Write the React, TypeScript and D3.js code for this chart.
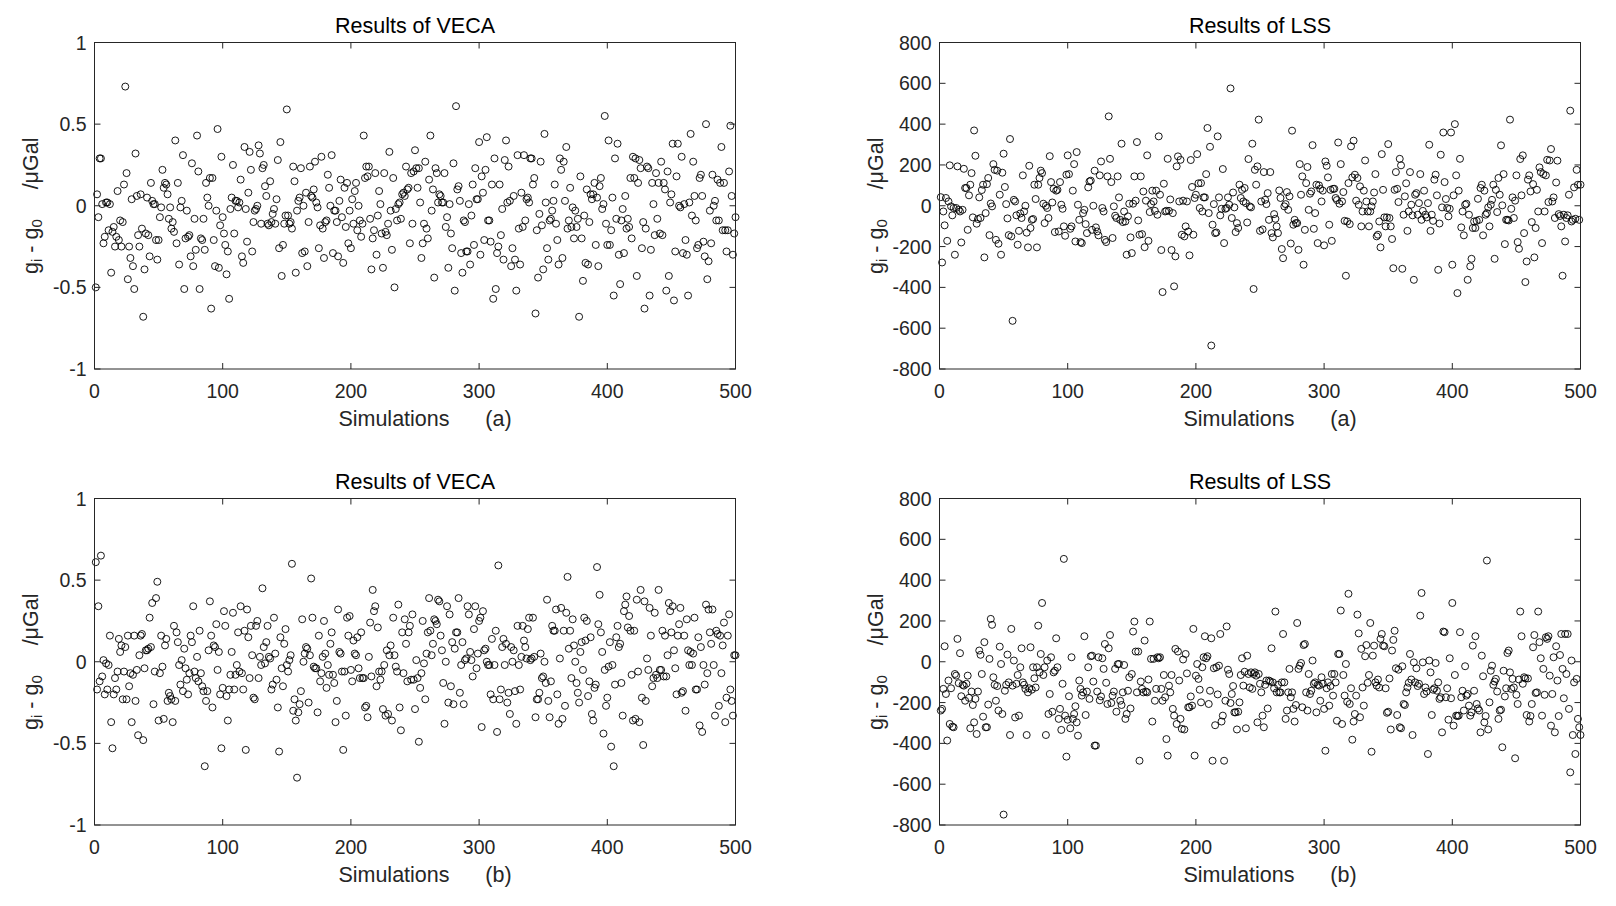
import * as d3 from "d3";

// simulation results (one value per simulation, 1..500)
const vecaA = [
  -0.50, 0.07, -0.07, 0.29, 0.29, 0.01, -0.23, -0.19, 0.02, 0.02,
  -0.15, 0.01, -0.41, -0.16, -0.13, -0.25, -0.19, 0.09, -0.21, -0.09,
  -0.25, -0.10, 0.13, 0.73, 0.20, -0.45, -0.25, -0.32, 0.04, -0.37,
  -0.51, 0.32, 0.06, -0.18, -0.25, 0.07, -0.14, -0.68, -0.39, -0.17,
  0.05, -0.18, -0.31, 0.14, 0.03, 0.01, 0.01, -0.21, -0.33, -0.21,
  -0.07, -0.01, 0.22, 0.11, 0.14, 0.13, 0.07, -0.08, -0.01, -0.14,
  -0.10, -0.16, 0.40, -0.23, 0.14, -0.36, -0.01, 0.03, 0.31, -0.51,
  -0.20, -0.03, -0.19, -0.18, -0.31, 0.26, -0.37, -0.08, -0.27, 0.43,
  0.21, -0.51, -0.20, -0.21, -0.08, -0.27, 0.14, 0.05, 0.00, 0.17,
  -0.63, 0.17, -0.21, -0.37, -0.03, 0.47, -0.38, -0.12, 0.30, -0.07,
  -0.17, -0.24, -0.42, -0.28, -0.57, -0.02, 0.05, 0.25, -0.17, 0.03,
  0.03, -0.01, 0.02, 0.16, -0.31, -0.35, 0.36, -0.02, -0.22, 0.08,
  0.33, 0.22, -0.28, -0.10, -0.03, -0.02, 0.00, 0.37, 0.32, -0.11,
  0.23, 0.25, 0.12, 0.06, -0.11, -0.12, 0.15, -0.10, -0.05, -0.02,
  -0.11, 0.04, 0.28, -0.26, 0.39, -0.43, -0.24, -0.11, -0.06, 0.59,
  -0.06, -0.11, -0.10, -0.14, 0.24, 0.15, -0.41, -0.03, 0.03, 0.05,
  0.23, -0.29, 0.00, -0.28, 0.08, -0.37, -0.10, 0.24, 0.06, 0.05,
  0.10, 0.27, 0.02, -0.01, -0.26, -0.12, 0.30, -0.14, -0.32, -0.10,
  -0.09, 0.19, 0.11, 0.00, 0.31, -0.29, -0.03, -0.03, -0.10, -0.31,
  0.03, 0.16, -0.07, -0.35, 0.11, -0.13, 0.14, -0.23, -0.03, -0.26,
  0.04, -0.11, 0.09, 0.14, -0.15, 0.00, -0.09, -0.19, -0.11, 0.43,
  0.17, 0.24, 0.18, 0.24, -0.08, -0.39, -0.20, -0.15, 0.20, -0.30,
  -0.06, 0.09, 0.01, -0.17, -0.38, 0.20, -0.16, -0.18, -0.11, 0.33,
  -0.03, -0.27, 0.17, -0.50, -0.02, -0.09, 0.01, 0.02, -0.08, 0.07,
  0.08, 0.06, 0.24, 0.10, 0.11, -0.23, 0.20, -0.11, 0.21, 0.34,
  0.23, 0.11, 0.23, 0.02, -0.32, -0.23, -0.11, 0.27, -0.14, -0.20,
  0.16, 0.43, -0.03, 0.10, -0.44, 0.23, 0.20, 0.02, 0.07, 0.06,
  0.02, 0.02, 0.20, -0.13, -0.07, -0.38, 0.01, -0.17, -0.26, 0.26,
  -0.52, 0.61, 0.10, 0.12, 0.03, -0.29, -0.41, -0.09, -0.10, -0.28,
  -0.28, 0.01, -0.36, -0.06, 0.13, -0.24, 0.23, 0.04, 0.04, 0.39,
  -0.30, 0.18, 0.08, -0.21, 0.22, 0.42, -0.09, -0.09, -0.22, 0.13,
  -0.57, 0.29, -0.51, -0.29, -0.25, 0.13, -0.18, -0.02, -0.33, 0.28,
  0.40, 0.02, 0.24, 0.03, -0.37, -0.26, 0.06, -0.33, -0.52, 0.31,
  -0.14, -0.36, 0.08, -0.13, 0.31, -0.09, 0.04, 0.05, 0.02, 0.29,
  0.29, 0.13, 0.17, -0.66, -0.15, -0.44, -0.05, 0.27, -0.12, -0.39,
  0.44, 0.02, -0.26, -0.33, -0.09, -0.08, -0.03, 0.03, 0.13, -0.11,
  -0.21, -0.36, 0.29, 0.22, -0.32, 0.27, 0.03, 0.36, -0.14, -0.09,
  0.11, -0.13, -0.01, -0.20, -0.03, -0.13, -0.08, -0.68, 0.18, -0.20,
  -0.46, -0.06, -0.35, 0.10, -0.36, -0.10, 0.07, 0.04, 0.07, 0.14,
  -0.24, 0.05, -0.37, 0.12, 0.17, -0.02, 0.01, 0.55, -0.11, -0.24,
  0.40, -0.24, -0.15, 0.05, -0.55, 0.29, -0.08, 0.38, -0.30, -0.48,
  -0.09, -0.02, -0.29, 0.06, -0.14, -0.08, -0.13, 0.17, -0.20, 0.30,
  0.17, 0.29, -0.43, 0.14, 0.28, 0.23, -0.26, -0.10, -0.63, -0.14,
  0.24, 0.23, -0.55, -0.27, 0.14, 0.01, -0.18, 0.20, -0.08, 0.14,
  -0.17, 0.27, -0.18, 0.14, 0.10, -0.52, 0.21, -0.43, 0.02, 0.07,
  0.38, -0.58, -0.28, 0.18, 0.38, 0.00, -0.01, 0.30, -0.29, 0.01,
  -0.21, -0.30, -0.55, 0.02, 0.44, -0.06, 0.27, 0.06, -0.09, -0.26,
  -0.24, 0.17, 0.19, 0.06, -0.22, -0.31, 0.50, -0.45, -0.34, -0.03,
  -0.23, 0.19, 0.00, 0.03, -0.09, 0.16, -0.09, 0.14, 0.36, -0.15,
  0.14, -0.15, -0.28, -0.15, 0.21, 0.49, 0.06, -0.30, -0.17, -0.07,
];

const lssA = [
  42, -278, -28, -96, 38, -172, 21, 198, -3, -47,
  -11, -240, -11, 193, -20, -28, -180, -20, 181, 87,
  87, -118, 51, 103, 160, -57, 369, 245, -88, -65,
  41, -60, 77, 103, -253, -36, 106, 136, -144, 11,
  -3, 204, 176, -167, 172, -186, 54, -240, 162, 255,
  92, 8, -62, -144, 327, -150, -564, 29, 21, -47,
  -191, -123, -38, -60, 149, -28, 0, -132, -204, 196,
  -109, -69, -65, 103, 33, -204, 103, 136, 172, 160,
  10, -85, 0, -11, -60, 243, 116, 16, 83, -129,
  74, 78, -126, 116, 5, -15, -101, -147, 152, 247,
  155, -113, -101, 74, 204, -175, 263, 5, -69, -178,
  -183, -36, -20, -90, -134, 90, 119, 123, -118, 0,
  172, -106, -126, -145, 149, 217, -11, -28, -167, -178,
  144, 438, 230, 116, -158, -3, -49, -60, 144, 41,
  -69, 304, -80, -28, -77, -240, -52, 10, -155, -232,
  10, 144, 25, 312, -72, -142, 144, -139, 70, -203,
  25, 247, -172, -31, 8, 74, 21, -25, 74, -44,
  340, 54, -217, -423, 108, -28, -25, 230, -25, 31,
  -217, -36, -395, -248, 193, 242, 21, 225, -142, 25,
  -150, -101, 21, -126, -243, 224, 92, -142, 38, 54,
  253, 110, -11, 111, -28, 41, 41, 155, 381, -36,
  289, -685, -93, 8, -134, -131, 340, 41, -47, -15,
  180, -183, -15, -11, 41, 5, 575, -60, 65, -8,
  -129, -85, -109, 103, 38, 78, 21, 87, 13, -82,
  229, -3, -8, 304, -408, 176, 103, 193, 422, -123,
  21, -116, 165, 29, 8, 62, -69, 165, -134, -155,
  -41, -64, -101, -134, 75, 38, -212, -257, -3, 8,
  67, -20, 46, -185, 368, -93, -69, -85, -85, -216,
  204, 54, 144, -289, -118, 111, 190, -20, 59, 70,
  297, -113, -36, 103, -183, 100, 83, 21, 74, -194,
  217, 196, 139, -93, 78, -172, 83, 83, 38, 28,
  310, 10, 204, 21, 67, -74, -343, -77, 111, -90,
  291, 139, 319, 152, 25, 136, 5, 95, -101, -28,
  74, 222, 21, -28, -101, -28, -3, 21, 65, 155,
  -150, -142, -77, -204, 253, 78, -57, -101, -57, 302,
  -60, -101, -163, -306, 78, 165, 83, 18, 230, 198,
  -309, -44, 46, 110, -123, -28, 165, 5, -47, -363,
  54, 62, -44, 13, 155, -69, -25, 74, -44, -57,
  13, 299, -123, -44, -74, 128, 152, 51, -314, -87,
  250, -8, 359, 116, 33, -11, -52, -15, 359, -289,
  51, 400, 149, -428, 74, 230, -106, -28, -145, 5,
  10, -363, -44, -297, -260, -109, -77, -109, -74, 34,
  -69, 87, 103, -145, 74, -44, -36, -8, -101, 5,
  29, 103, -260, 78, -31, 136, 54, 296, 2, 155,
  -188, -69, -69, -72, 422, -15, 41, -60, 25, 149,
  -178, -211, 229, 51, 247, -134, -374, -273, 128, 149,
  70, -80, 106, -253, -109, 78, -28, 188, 165, -183,
  155, -28, 149, 225, 18, 222, 278, 21, 41, -60,
  114, 221, -41, -50, -101, -343, -44, -175, -60, -47,
  54, 466, -77, -69, 90, -64, 176, 103, -69, 103,
];

const vecaB = [
  0.61, -0.17, 0.34, -0.12, 0.65, -0.09, 0.01, -0.20, -0.01, -0.17,
  -0.02, 0.16, -0.37, -0.53, -0.20, -0.10, -0.17, -0.06, 0.14, 0.06,
  0.10, -0.23, -0.06, 0.09, -0.23, 0.16, -0.15, -0.07, -0.37, -0.08,
  0.16, -0.24, -0.05, -0.45, 0.04, 0.16, 0.17, -0.48, -0.04, 0.07,
  0.07, 0.08, 0.27, 0.09, 0.36, -0.26, -0.06, 0.39, 0.49, -0.36,
  -0.07, 0.16, -0.03, -0.35, 0.10, 0.14, -0.24, -0.19, -0.21, -0.23,
  -0.37, 0.22, -0.24, 0.18, 0.12, -0.02, -0.14, 0.01, -0.18, 0.08,
  -0.04, -0.11, -0.20, -0.07, 0.16, 0.12, 0.34, -0.06, -0.10, 0.03,
  -0.12, 0.19, -0.07, -0.15, -0.18, -0.64, -0.24, -0.18, 0.07, 0.37,
  0.16, -0.28, 0.10, 0.09, 0.23, -0.05, 0.06, -0.20, -0.53, -0.16,
  0.31, 0.22, -0.21, -0.36, -0.17, -0.08, 0.06, 0.30, -0.17, -0.08,
  -0.02, 0.18, -0.06, 0.34, -0.07, -0.17, 0.19, -0.54, 0.32, 0.15,
  -0.10, 0.22, 0.04, -0.22, -0.23, 0.22, 0.25, -0.10, 0.03, -0.02,
  0.45, 0.09, -0.01, 0.12, 0.22, 0.03, 0.02, -0.17, -0.14, 0.27,
  0.05, -0.11, -0.28, -0.55, 0.15, -0.04, -0.15, 0.11, 0.20, -0.02,
  -0.06, 0.01, 0.04, 0.60, -0.30, -0.23, -0.36, -0.71, -0.31, -0.26,
  -0.18, 0.26, 0.00, 0.05, 0.09, 0.08, -0.25, 0.04, 0.51, 0.27,
  -0.03, -0.04, -0.04, -0.31, 0.16, -0.12, -0.07, 0.03, 0.25, 0.05,
  -0.16, -0.02, -0.08, 0.11, 0.18, -0.08, -0.13, -0.37, -0.24, 0.32,
  0.06, 0.05, -0.06, -0.54, -0.06, -0.33, 0.27, 0.16, 0.28, -0.05,
  -0.12, 0.13, 0.05, 0.04, 0.15, -0.04, -0.10, 0.18, -0.10, -0.10,
  -0.28, -0.27, -0.34, 0.03, 0.24, -0.09, 0.44, 0.31, 0.34, -0.15,
  0.21, -0.06, -0.11, -0.06, -0.29, -0.02, -0.33, 0.07, -0.32, 0.04,
  0.10, -0.36, 0.27, 0.04, -0.03, -0.06, 0.35, -0.28, -0.42, 0.18,
  -0.07, 0.26, 0.11, -0.12, 0.18, 0.22, -0.11, 0.29, -0.11, -0.29,
  0.01, -0.10, -0.49, -0.16, -0.07, 0.25, -0.01, -0.23, 0.05, 0.18,
  0.39, 0.19, 0.04, 0.11, 0.26, 0.25, 0.23, 0.38, 0.37, 0.16,
  0.07, -0.13, -0.38, 0.00, 0.34, -0.25, 0.29, -0.15, 0.12, -0.26,
  0.08, 0.18, 0.18, 0.39, -0.19, -0.02, 0.12, -0.26, 0.01, 0.02,
  0.34, 0.29, 0.06, 0.01, -0.09, 0.20, 0.34, -0.04, 0.05, 0.25,
  0.27, -0.40, 0.31, 0.07, 0.08, 0.00, -0.02, -0.02, -0.20, 0.14,
  -0.23, -0.02, 0.19, -0.43, 0.59, -0.23, -0.17, 0.09, 0.14, -0.02,
  0.11, -0.25, -0.19, -0.32, 0.09, 0.00, 0.07, -0.18, -0.38, 0.22,
  -0.02, -0.17, 0.03, 0.22, 0.13, 0.09, 0.02, 0.20, 0.27, 0.01,
  0.02, 0.27, 0.03, -0.34, -0.23, -0.23, -0.19, 0.05, -0.10, -0.09,
  0.00, -0.13, 0.38, -0.24, -0.34, -0.12, 0.22, 0.19, 0.19, 0.32,
  -0.20, -0.38, 0.02, 0.33, -0.35, 0.19, -0.27, 0.30, 0.52, 0.08,
  0.19, -0.10, 0.26, 0.10, 0.00, -0.13, -0.19, -0.25, 0.06, 0.12,
  -0.05, 0.27, 0.13, 0.25, -0.21, -0.12, 0.15, -0.32, -0.36, -0.16,
  -0.14, 0.58, 0.23, 0.41, 0.18, 0.06, -0.44, -0.05, -0.27, -0.22,
  -0.03, 0.12, -0.52, -0.02, -0.64, -0.14, 0.15, 0.22, 0.09, 0.11,
  -0.13, -0.33, 0.31, 0.35, 0.40, 0.21, 0.28, 0.19, -0.08, -0.36,
  0.19, -0.35, 0.38, -0.06, -0.37, 0.44, -0.22, -0.51, 0.37, -0.24,
  0.02, -0.05, 0.33, 0.16, -0.15, -0.10, 0.30, -0.08, -0.10, 0.44,
  -0.05, -0.05, 0.19, -0.09, 0.16, -0.09, 0.04, 0.36, 0.31, 0.18,
  0.34, 0.07, -0.04, -0.20, 0.16, 0.23, 0.33, -0.19, -0.18, 0.16,
  -0.30, 0.26, 0.07, -0.02, 0.06, -0.02, 0.05, 0.27, -0.17, -0.17,
  0.15, -0.39, 0.09, -0.43, -0.02, -0.14, 0.35, -0.07, 0.32, 0.18,
  0.11, 0.32, -0.02, -0.33, 0.19, 0.17, -0.27, 0.16, -0.07, 0.10,
  0.24, -0.37, -0.22, 0.16, 0.29, -0.17, -0.24, -0.33, 0.04, 0.04,
];

const lssB = [
  -239, -231, -133, 76, -158, -386, -92, -305, -130, -318,
  -321, -60, -68, 112, -105, 42, -169, -113, -117, -191,
  -108, -68, -177, -326, -146, -212, -297, -182, -354, -146,
  55, 34, -60, -269, 96, -321, -321, -210, 14, 210,
  181, -76, -113, -191, -119, -239, 74, -11, -256, -749,
  -142, -113, 35, -101, -359, 161, -117, 6, -273, -108,
  -65, -264, -27, 66, -101, -113, -133, -359, -150, -130,
  71, -137, -27, -81, -126, -27, 177, -52, 38, 288,
  -65, -27, -359, 6, -256, -158, 22, -245, -52, -44,
  115, -27, -280, -231, -334, -108, 504, -264, -465, -284,
  -169, -326, 22, -280, -256, -218, -297, -362, -92, -133,
  -166, -150, 125, -261, -146, -27, -182, 27, 30, -97,
  -411, -411, -146, 22, -189, -170, 17, -35, 87, -103,
  -207, 66, 131, -202, -166, -146, -35, -245, -12, -11,
  -191, -212, -150, -16, -280, -256, -142, -76, -229, -60,
  148, 197, 50, -150, 50, -485, -97, -133, -150, 104,
  -146, -150, -87, 197, 14, -293, 14, -191, -133, 22,
  17, 22, -133, -191, -65, -174, -379, -460, -117, -150,
  -65, -231, -264, 63, -305, 50, -92, -280, -329, 11,
  -332, 38, -57, -223, -223, -170, -215, 161, -460, -68,
  -11, -84, -137, -199, -27, 22, 125, 17, 27, -207,
  -142, 115, -485, -32, -311, -27, -160, -19, 136, -293,
  -264, -485, -191, 173, -39, -60, -202, -158, -119, -248,
  -248, -332, -245, -199, -65, 17, -117, -49, -326, 30,
  -60, -126, -52, -133, -60, -52, -68, -297, -60, -108,
  -150, -264, -321, -113, -92, -229, -92, -97, 66, -101,
  -130, 246, -150, -113, -150, -150, -101, 136, -101, -280,
  -239, -150, -35, -174, -150, -231, -293, -212, 190, -35,
  -19, -6, -223, 82, 87, -150, -239, -60, -158, -142,
  6, -108, -101, -248, -113, -117, -191, -76, -108, -231,
  -436, -130, -101, -215, -119, -60, -166, -60, -101, -289,
  38, 38, 251, -305, -65, -166, -11, -196, 333, -207,
  -130, -382, -293, -256, -166, 231, 139, -272, 63, -126,
  -215, 27, 82, -103, -65, 190, -441, 30, 79, -101,
  -117, -87, -126, 112, 136, 79, 76, -130, -250, -245,
  -82, -332, 55, 107, 152, -32, -261, -39, -321, -326,
  -22, -207, -212, -150, -126, -103, 38, -87, -359, -3,
  -101, -32, -119, -108, 226, 337, -3, -158, -126, -146,
  -452, 6, -52, -261, -137, -130, -6, -142, -101, -182,
  -174, -346, 148, 145, -174, -130, -284, 17, -179, 288,
  -313, -65, -264, -266, -264, 145, -174, -142, -239, -22,
  -166, -158, -215, -264, -248, 79, -142, 125, -207, -229,
  -239, -346, 30, -71, -297, -266, 496, -332, -199, -44,
  -19, -113, -97, -84, -146, -280, -239, -235, -419, -44,
  -170, -130, 43, 55, -52, -133, -84, -126, -473, -162,
  -207, -87, 246, 125, -108, -76, -82, -261, -82, -293,
  -266, -207, 71, 131, -153, -150, 246, 96, 17, -264,
  -35, -162, 120, 112, 125, -68, -313, -158, 22, -346,
  76, -92, -266, 33, 136, -35, -179, 136, -60, 136,
  -231, -542, 6, -359, -101, -452, -84, -280, -321, -359,
];

// axis ticks
const simTicks = [0, 100, 200, 300, 400, 500];
const vecaTicks = [-1, -0.5, 0, 0.5, 1];
const lssTicks = [-800, -600, -400, -200, 0, 200, 400, 600, 800];

const FONT = "'Liberation Sans', Arial, Helvetica, sans-serif";
const AXIS_COLOR = "#262626";
const W = 641;
const H = 326.5;
const TICK_LEN = 6;

const panels = [
  { key: "veca-a", title: "Results of VECA", tag: "(a)", values: vecaA, yTicks: vecaTicks, yDomain: [-1, 1], left: 94.5, top: 42.5 },
  { key: "lss-a", title: "Results of LSS", tag: "(a)", values: lssA, yTicks: lssTicks, yDomain: [-800, 800], left: 939.5, top: 42.5 },
  { key: "veca-b", title: "Results of VECA", tag: "(b)", values: vecaB, yTicks: vecaTicks, yDomain: [-1, 1], left: 94.5, top: 498.5 },
  { key: "lss-b", title: "Results of LSS", tag: "(b)", values: lssB, yTicks: lssTicks, yDomain: [-800, 800], left: 939.5, top: 498.5 },
];

function Panel({ title, tag, values, yTicks, yDomain, left, top }) {
  const x = d3.scaleLinear().domain([0, 500]).range([left, left + W]);
  const y = d3.scaleLinear().domain(yDomain).range([top + H, top]);
  const bottom = top + H;
  const right = left + W;

  return (
    <g>
      {/* dots */}
      <g fill="none" stroke="#000" strokeWidth={0.9}>
        {values.map((v, i) => (
          <circle key={i} cx={x(i + 1)} cy={y(v)} r={3.5} />
        ))}
      </g>

      {/* box */}
      <rect x={left} y={top} width={W} height={H} fill="none" stroke={AXIS_COLOR} strokeWidth={1} />

      {/* ticks, inward on all four sides */}
      <g stroke={AXIS_COLOR} strokeWidth={1}>
        {simTicks.map((t) => (
          <g key={t}>
            <line x1={x(t)} x2={x(t)} y1={bottom} y2={bottom - TICK_LEN} />
            <line x1={x(t)} x2={x(t)} y1={top} y2={top + TICK_LEN} />
          </g>
        ))}
        {yTicks.map((t) => (
          <g key={t}>
            <line x1={left} x2={left + TICK_LEN} y1={y(t)} y2={y(t)} />
            <line x1={right} x2={right - TICK_LEN} y1={y(t)} y2={y(t)} />
          </g>
        ))}
      </g>

      {/* tick labels */}
      <g fill={AXIS_COLOR} fontSize={19.5}>
        {simTicks.map((t) => (
          <text key={t} x={x(t)} y={bottom + 22} textAnchor="middle" dominantBaseline="central">
            {String(t)}
          </text>
        ))}
        {yTicks.map((t) => (
          <text key={t} x={left - 8} y={y(t)} textAnchor="end" dominantBaseline="central">
            {String(t)}
          </text>
        ))}
      </g>

      {/* title */}
      <text x={left + W / 2} y={top - 17} textAnchor="middle" dominantBaseline="central" fontSize={21.5} fill="#000">
        {title}
      </text>

      {/* x label */}
      <text x={left + W / 2 + 10} y={bottom + 50} textAnchor="middle" dominantBaseline="central" fontSize={21.5} fill={AXIS_COLOR} style={{ whiteSpace: "pre" }}>
        {"Simulations      " + tag}
      </text>

      {/* y label */}
      <text
        transform={`translate(${left - 64},${top + H / 2}) rotate(-90)`}
        textAnchor="middle"
        dominantBaseline="central"
        fontSize={21.5}
        fill={AXIS_COLOR}
        style={{ whiteSpace: "pre" }}
      >
        g<tspan fontSize={15} dy={5}>i</tspan>
        <tspan dy={-5}>{" - g"}</tspan>
        <tspan fontSize={15} dy={5}>0</tspan>
        <tspan dy={-5}>{"     /μGal"}</tspan>
      </text>
    </g>
  );
}

export default function App() {
  return (
    <svg
      width={1616}
      height={906}
      style={{ position: "absolute", left: 0, top: 0, background: "#fff" }}
      fontFamily={FONT}
    >
      <rect width={1616} height={906} fill="#fff" />
      {panels.map((p) => (
        <Panel {...p} />
      ))}
    </svg>
  );
}
